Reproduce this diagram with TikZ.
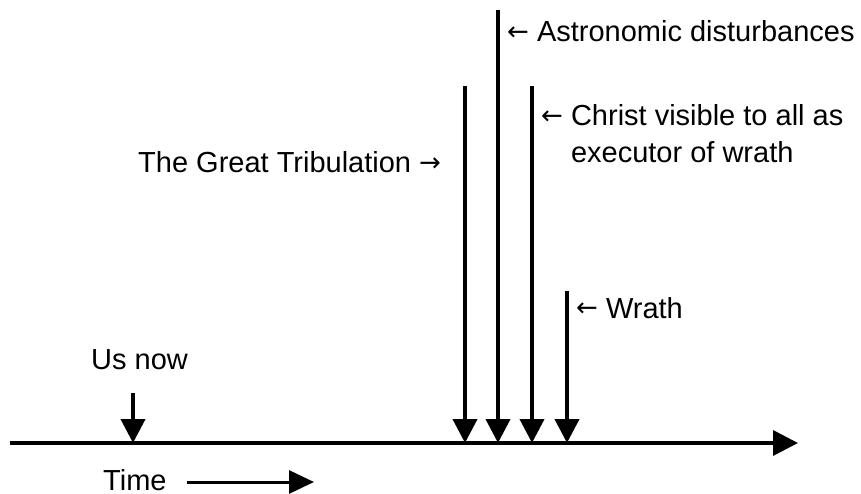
\documentclass[tikz,border=0pt]{standalone}
\usepackage{fontspec}
\setmainfont{Liberation Sans}
\newfontfamily\arrowfont{DejaVu Sans}
\newcommand\myleft{{\arrowfont\fontsize{26}{26}\selectfont\raisebox{1.3pt}{←}}}
\newcommand\myright{{\arrowfont\fontsize{26}{26}\selectfont\raisebox{1.3pt}{→}}}
\usetikzlibrary{arrows.meta}
\begin{document}
\begin{tikzpicture}[x=1pt,y=-1pt,
  lbl/.style={inner sep=0pt,anchor=base west,font=\fontsize{29}{37}\selectfont,align=left},
  evt/.style={line width=4pt,-{Triangle[length=24pt,width=24pt]}},
  axis/.style={line width=3.5pt,-{Triangle[length=25pt,width=25pt]}}]
\useasboundingbox (0,0) rectangle (861,494);
% timeline
\coordinate (t0) at (10,443);
\coordinate (t1) at (798,443);
\draw[axis] (t0) -- (t1);
% event points on axis
\coordinate (us) at (133,443);
\coordinate (e1) at (465,443);
\coordinate (e2) at (498,443);
\coordinate (e3) at (532,443);
\coordinate (e4) at (567,443);
\coordinate (us0) at (133,393);
\coordinate (e1t) at (465,86);
\coordinate (e2t) at (498,10);
\coordinate (e3t) at (532,86);
\coordinate (e4t) at (567,291);
\draw[evt] (us0) -- (us);
\draw[evt] (e1t) -- (e1);
\draw[evt] (e2t) -- (e2);
\draw[evt] (e3t) -- (e3);
\draw[evt] (e4t) -- (e4);
% labels
\node[lbl] (astro) at (507,42) {\myleft\ Astronomic disturbances};
\node[lbl] (christ) at (541,163) {\myleft\ Christ visible to all as\\\phantom{\myleft\ }executor of wrath};
\node[lbl] (trib) at (138,173) {The Great Tribulation \myright};
\node[lbl] (wrath) at (576,318) {\myleft\ Wrath};
\node[lbl] (usnow) at (91,369) {Us now};
\node[lbl] (time) at (103,490) {Time};
\coordinate (ta) at (187,482);
\coordinate (tb) at (314,482);
\draw[line width=3pt,-{Triangle[length=25pt,width=23pt]}] (ta) -- (tb);
\end{tikzpicture}
\end{document}
